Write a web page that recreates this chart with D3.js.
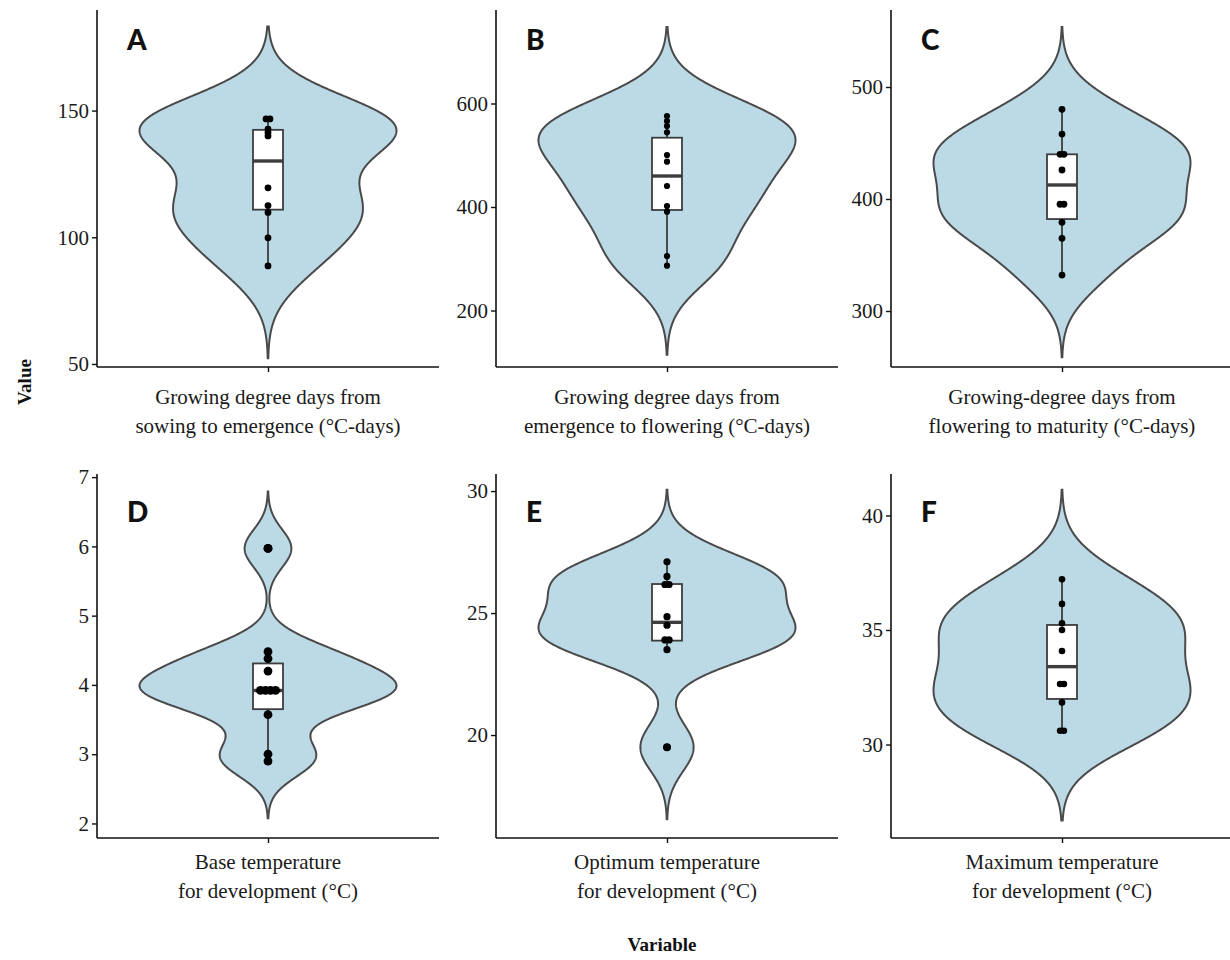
<!DOCTYPE html>
<html>
<head>
<meta charset="utf-8">
<script src="https://cdn.jsdelivr.net/npm/d3@7"></script>
<style>
  html, body { margin: 0; padding: 0; background: #fff; }
  svg { display: block; }
  .tick text { font-family: "Liberation Serif", "DejaVu Serif", serif; font-size: 21px; fill: #1a1a1a; }
  .cat { font-family: "Liberation Serif", "DejaVu Serif", serif; font-size: 21px; fill: #1a1a1a; }
  .ttl { font-family: "Liberation Serif", "DejaVu Serif", serif; font-size: 19px; font-weight: bold; fill: #111; }
  .tag { font-family: Lato, "DejaVu Sans", sans-serif; font-size: 28px; font-weight: 900; fill: #111; }
</style>
</head>
<body>
<svg id="chart" width="1230" height="960"></svg>
<script>
// violin + box + dots, six free-scale panels
const panels = ["A", "B", "C", "D", "E", "F"];
const catLabels = [
  ["Growing degree days from", "sowing to emergence (°C-days)"],
  ["Growing degree days from", "emergence to flowering (°C-days)"],
  ["Growing-degree days from", "flowering to maturity (°C-days)"],
  ["Base temperature", "for development (°C)"],
  ["Optimum temperature", "for development (°C)"],
  ["Maximum temperature", "for development (°C)"]
];

const valuesA = [88.7, 99.8, 109.8, 112.5, 119.5, 140.0, 141.4, 142.7, 146.7, 146.7];
const valuesB = [286.6, 305.3, 390.9, 401.9, 440.6, 487.6, 500.5, 544.3, 556.5, 566.2, 575.8];
const valuesC = [332.1, 364.9, 379.2, 395.3, 395.3, 425.9, 439.9, 439.9, 458.0, 480.1];
const valuesD = [2.9, 3.0, 3.57, 3.92, 3.92, 3.92, 3.92, 4.2, 4.38, 4.48, 5.97];
const valuesE = [19.5, 23.5, 23.9, 23.9, 24.5, 24.85, 26.17, 26.17, 26.5, 27.1];
const valuesF = [30.6, 30.6, 31.84, 32.64, 32.64, 34.08, 35.0, 35.29, 36.14, 37.21];

// box hinges: q1, median, q3
const boxA = [110.9, 130.1, 142.4];
const boxB = [394.2, 459.9, 533.9];
const boxC = [382.1, 412.5, 439.9];
const boxD = [3.65, 3.92, 4.31];
const boxE = [23.87, 24.62, 26.19];
const boxF = [31.99, 33.4, 35.22];

// y ticks and axis ranges (bottom, top) per panel
const ticksA = [50, 100, 150], ticksB = [200, 400, 600], ticksC = [300, 400, 500];
const ticksD = [2, 3, 4, 5, 6, 7], ticksE = [20, 25, 30], ticksF = [30, 35, 40];
const domA = [48.8, 189.7], domB = [90.8, 780.7], domC = [250, 568.75];
const domD = [1.79, 7.045], domE = [15.78, 30.7], domF = [25.92, 41.81];

const allValues = [valuesA, valuesB, valuesC, valuesD, valuesE, valuesF];
const allBoxes = [boxA, boxB, boxC, boxD, boxE, boxF];
const allTicks = [ticksA, ticksB, ticksC, ticksD, ticksE, ticksF];
const allDoms = [domA, domB, domC, domD, domE, domF];
const dotR = [3.4, 3.1, 3.4, 4.4, 3.6, 3.3];

const FILL = "#bcd9e6", LINE = "#4a4a4a";
const colX = [97, 496, 891], panelW = 342;
const rowY = [[10, 367], [474, 838]];
const tagY = [50, 522];
const HALF = 128.5, BOXW = 30;

const svg = d3.select("#chart");

function bwNrd0(v, box) {
  const sd = d3.deviation(v);
  const lo = Math.min(sd, (box[2] - box[0]) / 1.34);
  return 0.9 * lo * Math.pow(v.length, -0.2);
}

function kde(v, bw) {
  const lo = d3.min(v) - 3 * bw, hi = d3.max(v) + 3 * bw;
  const grid = d3.range(512).map((i) => lo + (hi - lo) * i / 511);
  return grid.map((t) => ({
    v: t,
    d: d3.sum(v, (x) => Math.exp(-0.5 * ((t - x) / bw) ** 2)) / (v.length * bw * Math.sqrt(2 * Math.PI))
  }));
}

panels.forEach((p, i) => {
  const col = i % 3, row = Math.floor(i / 3);
  const [top, bot] = rowY[row];
  const v = allValues[i], box = allBoxes[i];
  const g = svg.append("g").attr("transform", `translate(${colX[col]},0)`);

  const x = d3.scalePoint().domain([p]).range([0, panelW]).padding(0.5);
  const y = d3.scaleLinear().domain(allDoms[i]).range([bot, top]);
  const cx = x(p);

  // violin
  const dens = kde(v, bwNrd0(v, box));
  const dmax = d3.max(dens, (d) => d.d);
  const w = d3.scaleLinear().domain([0, dmax]).range([0, HALF]);
  const area = d3.area().y((d) => y(d.v)).x0((d) => cx - w(d.d)).x1((d) => cx + w(d.d));
  g.append("path").datum(dens).attr("d", area)
    .attr("fill", FILL).attr("stroke", LINE).attr("stroke-width", 2);

  // box and whiskers
  const iqr = box[2] - box[0];
  const inside = v.filter((d) => d >= box[0] - 1.5 * iqr && d <= box[2] + 1.5 * iqr);
  const wLo = d3.min(inside), wHi = d3.max(inside);
  const outl = v.filter((d) => d < wLo || d > wHi);
  g.append("line").attr("x1", cx).attr("x2", cx).attr("y1", y(box[2])).attr("y2", y(wHi))
    .attr("stroke", "#333").attr("stroke-width", 1.7);
  g.append("line").attr("x1", cx).attr("x2", cx).attr("y1", y(box[0])).attr("y2", y(wLo))
    .attr("stroke", "#333").attr("stroke-width", 1.7);
  g.append("rect").attr("x", cx - BOXW / 2).attr("width", BOXW)
    .attr("y", y(box[2])).attr("height", y(box[0]) - y(box[2]))
    .attr("fill", "#fff").attr("stroke", "#3d3d3d").attr("stroke-width", 1.8);
  g.append("line").attr("x1", cx - BOXW / 2).attr("x2", cx + BOXW / 2)
    .attr("y1", y(box[1])).attr("y2", y(box[1]))
    .attr("stroke", "#3d3d3d").attr("stroke-width", 3.4);

  // dots, ties placed side by side
  const r = dotR[i];
  const groups = d3.group(v, (d) => d);
  const dots = [];
  groups.forEach((arr, val) => arr.forEach((_, k) => dots.push({ val, off: (k - (arr.length - 1) / 2) * r * 1.15 })));
  g.selectAll(".dot").data(dots).enter().append("circle")
    .attr("cx", (d) => cx + d.off).attr("cy", (d) => y(d.val)).attr("r", r).attr("fill", "#000");
  g.selectAll(".out").data(outl).enter().append("circle")
    .attr("cx", cx).attr("cy", (d) => y(d)).attr("r", Math.max(r, 4)).attr("fill", "#000");

  // axes
  const ay = g.append("g").call(d3.axisLeft(y).tickValues(allTicks[i]).tickFormat(d3.format("d"))
    .tickSize(5).tickPadding(3));
  const ax = g.append("g").attr("transform", `translate(0,${bot})`)
    .call(d3.axisBottom(x).tickSize(5).tickFormat(""));
  [ay, ax].forEach((a) => {
    a.select(".domain").attr("stroke", "#111").attr("stroke-width", 1.6);
    a.selectAll(".tick line").attr("stroke", "#111").attr("stroke-width", 1.4);
  });
  ax.select(".domain").attr("d", `M0,0H${panelW}`);
  ay.select(".domain").attr("d", `M0,${bot}V${top}`);

  const t = g.append("text").attr("class", "cat").attr("text-anchor", "middle");
  catLabels[i].forEach((line, k) => {
    t.append("tspan").attr("x", cx).attr("y", bot + (row === 0 ? 37 : 31) + k * 29).text(line);
  });

  g.append("text").attr("class", "tag").attr("x", 30).attr("y", tagY[row]).text(p);
});

svg.append("text").attr("class", "ttl").attr("text-anchor", "middle")
  .attr("transform", "translate(31,382) rotate(-90)").text("Value");
svg.append("text").attr("class", "ttl").attr("text-anchor", "middle")
  .attr("x", 662).attr("y", 951).text("Variable");
</script>
</body>
</html>
